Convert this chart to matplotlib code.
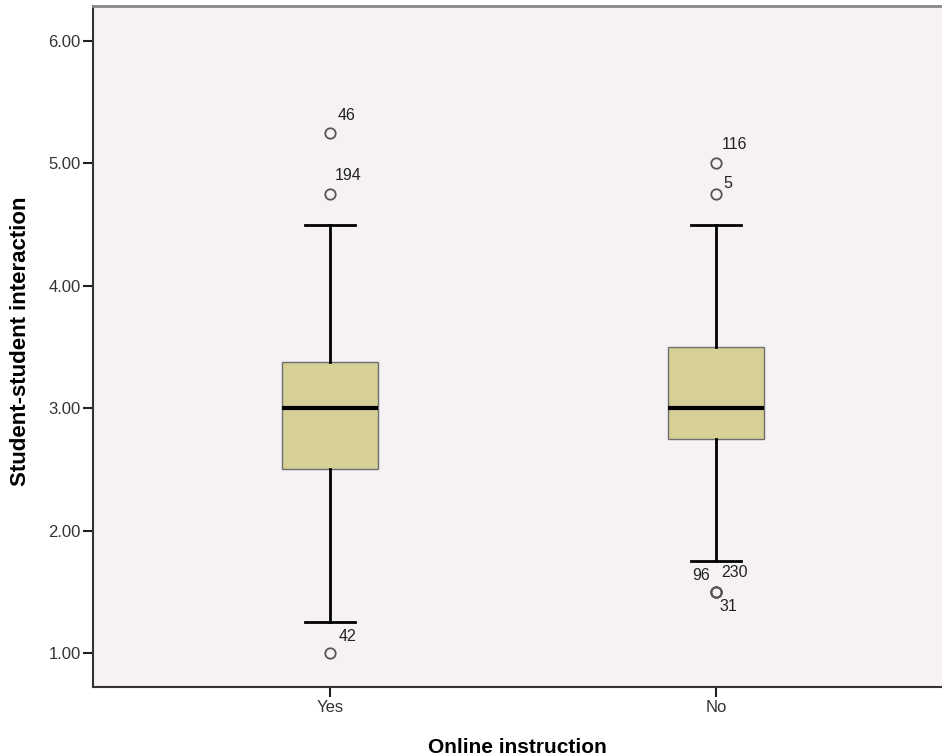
import matplotlib
matplotlib.use("Agg")
import matplotlib.pyplot as plt

# data
groups = ["Yes", "No"]
q1 = [2.50, 2.75]
medians = [3.00, 3.00]
q3 = [3.375, 3.50]
whisker_lo = [1.25, 1.75]
whisker_hi = [4.50, 4.50]
outlier_values = [[5.25, 4.75, 1.00], [5.00, 4.75, 1.50, 1.50, 1.50]]
outlier_ids = [["46", "194", "42"], ["116", "5", "96", "230", "31"]]
# label offsets in pixels (dx, dy) for each outlier case number
outlier_offsets = [[(17, 17), (18, 18), (17, 16)],
                   [(18, 19), (12, 10), (-15, 16), (18, 19), (12, -15)]]

yticks = [1.0, 2.0, 3.0, 4.0, 5.0, 6.0]

plt.rcParams['font.family'] = ['Liberation Sans', 'DejaVu Sans']

fig = plt.figure(figsize=(9.42, 7.56), dpi=100)
ax = fig.add_axes([93 / 942, 1 - 687 / 756, 1 - 93 / 942, 681 / 756])
ax.set_facecolor('#F5F1F5')

positions = [1, 2]
stats = []
for i, g in enumerate(groups):
    stats.append(dict(label=g, med=medians[i], q1=q1[i], q3=q3[i],
                      whislo=whisker_lo[i], whishi=whisker_hi[i],
                      fliers=outlier_values[i]))

ax.bxp(stats, positions=positions, widths=0.25, patch_artist=True,
       showfliers=True,
       boxprops=dict(facecolor='#D6CF96', edgecolor='#6E6E6E', linewidth=1.0),
       medianprops=dict(color='black', linewidth=3.0),
       whiskerprops=dict(color='black', linewidth=2.0),
       capprops=dict(color='black', linewidth=2.0),
       capwidths=0.13,
       flierprops=dict(marker='o', markerfacecolor='none', markeredgecolor='#555555',
                       markersize=7.5, markeredgewidth=1.3, linestyle='none'))

for i, pos in enumerate(positions):
    for val, cid, off in zip(outlier_values[i], outlier_ids[i], outlier_offsets[i]):
        ax.annotate(cid, xy=(pos, val), xytext=off, textcoords='offset pixels',
                    ha='center', va='center', fontsize=11.5, color='#222222')

ax.set_xlim(0.386, 2.585)
ax.set_ylim(0.722, 6.286)
ax.set_yticks(yticks)
ax.set_yticklabels([f"{v:.2f}" for v in yticks], fontsize=12, color='#333333')
ax.set_xticks(positions)
ax.set_xticklabels(groups, fontsize=12, color='#333333')
ax.tick_params(axis='both', length=7, width=1.5, color='#222222', pad=2)

ax.spines['right'].set_visible(False)
ax.spines['top'].set_color('#888888')
ax.spines['top'].set_linewidth(2)
ax.spines['left'].set_linewidth(1.5)
ax.spines['bottom'].set_linewidth(1.5)
ax.spines['left'].set_color('#333333')
ax.spines['bottom'].set_color('#333333')

ax.set_ylabel('Student-student interaction', fontsize=16, fontweight='bold')
ax.yaxis.set_label_coords(-0.073, 0.508)
ax.set_xlabel('Online instruction', fontsize=15, fontweight='bold', labelpad=17)

fig.savefig('out.png', dpi=100)
